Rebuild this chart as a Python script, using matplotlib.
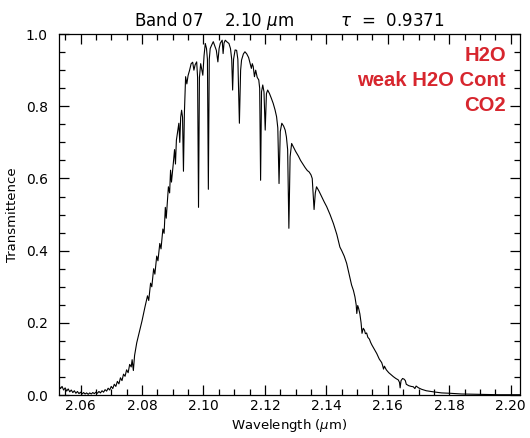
import matplotlib
matplotlib.use("Agg")
import matplotlib.pyplot as plt
from matplotlib.ticker import MultipleLocator, FormatStrFormatter

# Band 07 transmittance
wavelength = [
    2.0530, 2.0535, 2.0540, 2.0545, 2.0550, 2.0555, 2.0560, 2.0565, 2.0570, 2.0575,
    2.0580, 2.0585, 2.0590, 2.0595, 2.0600, 2.0605, 2.0610, 2.0615, 2.0620, 2.0625,
    2.0630, 2.0635, 2.0640, 2.0645, 2.0650, 2.0655, 2.0660, 2.0665, 2.0670, 2.0675,
    2.0680, 2.0685, 2.0690, 2.0695, 2.0700, 2.0705, 2.0710, 2.0715, 2.0720, 2.0725,
    2.0730, 2.0735, 2.0740, 2.0745, 2.0750, 2.0755, 2.0760, 2.0765, 2.0768, 2.0772,
    2.0776, 2.0783, 2.0790, 2.0800, 2.0810, 2.0818, 2.0822, 2.0828, 2.0832, 2.0838,
    2.0842, 2.0848, 2.0852, 2.0858, 2.0862, 2.0868, 2.0872, 2.0876, 2.0879, 2.0886,
    2.0890, 2.0893, 2.0896, 2.0902, 2.0906, 2.0909, 2.0912, 2.0916, 2.0920, 2.0923,
    2.0926, 2.0929, 2.0932, 2.0935, 2.0938, 2.0942, 2.0946, 2.0950, 2.0955, 2.0960,
    2.0965, 2.0969, 2.0973, 2.0978, 2.0981, 2.0984, 2.0987, 2.0991, 2.0995, 2.0998,
    2.1002, 2.1006, 2.1010, 2.1013, 2.1016, 2.1019, 2.1022, 2.1027, 2.1032, 2.1038,
    2.1042, 2.1047, 2.1051, 2.1055, 2.1061, 2.1064, 2.1067, 2.1071, 2.1077, 2.1083,
    2.1088, 2.1092, 2.1095, 2.1098, 2.1103, 2.1108, 2.1112, 2.1117, 2.1121, 2.1124,
    2.1130, 2.1135, 2.1141, 2.1147, 2.1152, 2.1156, 2.1159, 2.1162, 2.1166, 2.1170,
    2.1175, 2.1180, 2.1183, 2.1186, 2.1189, 2.1193, 2.1197, 2.1201, 2.1205, 2.1209,
    2.1215, 2.1221, 2.1227, 2.1233, 2.1238, 2.1242, 2.1246, 2.1250, 2.1255, 2.1261,
    2.1266, 2.1270, 2.1274, 2.1278, 2.1282, 2.1287, 2.1294, 2.1300, 2.1309, 2.1316,
    2.1325, 2.1331, 2.1338, 2.1344, 2.1350, 2.1354, 2.1360, 2.1364, 2.1368, 2.1376,
    2.1385, 2.1393, 2.1401, 2.1412, 2.1423, 2.1434, 2.1444, 2.1450, 2.1458, 2.1466,
    2.1474, 2.1482, 2.1488, 2.1493, 2.1497, 2.1499, 2.1502, 2.1505, 2.1509, 2.1513,
    2.1516, 2.1520, 2.1524, 2.1527, 2.1531, 2.1535, 2.1540, 2.1544, 2.1548, 2.1556,
    2.1564, 2.1572, 2.1580, 2.1583, 2.1586, 2.1589, 2.1595, 2.1603, 2.1610, 2.1618,
    2.1626, 2.1634, 2.1638, 2.1640, 2.1643, 2.1648, 2.1653, 2.1657, 2.1660, 2.1668,
    2.1676, 2.1683, 2.1688, 2.1692, 2.1700, 2.1710, 2.1725, 2.1748, 2.1775, 2.1802,
    2.1840, 2.1900, 2.1960, 2.2030,
]
transmittance = [
    0.026, 0.018, 0.024, 0.014, 0.020, 0.011, 0.017, 0.009, 0.014, 0.007,
    0.012, 0.005, 0.010, 0.004, 0.008, 0.003, 0.007, 0.003, 0.006, 0.002,
    0.006, 0.003, 0.007, 0.004, 0.008, 0.005, 0.010, 0.006, 0.012, 0.008,
    0.015, 0.011, 0.019, 0.014, 0.024, 0.018, 0.030, 0.024, 0.038, 0.031,
    0.048, 0.040, 0.058, 0.052, 0.070, 0.062, 0.085, 0.078, 0.098, 0.068,
    0.110, 0.145, 0.170, 0.205, 0.245, 0.275, 0.262, 0.310, 0.300, 0.350,
    0.335, 0.385, 0.372, 0.420, 0.405, 0.460, 0.448, 0.520, 0.490, 0.577,
    0.560, 0.623, 0.590, 0.642, 0.680, 0.640, 0.706, 0.730, 0.753, 0.700,
    0.770, 0.789, 0.770, 0.620, 0.780, 0.882, 0.862, 0.885, 0.900, 0.918,
    0.922, 0.900, 0.915, 0.923, 0.880, 0.520, 0.880, 0.918, 0.900, 0.886,
    0.940, 0.974, 0.960, 0.930, 0.570, 0.930, 0.960, 0.970, 0.979, 0.965,
    0.955, 0.923, 0.960, 0.975, 0.983, 0.946, 0.975, 0.983, 0.978, 0.974,
    0.960, 0.930, 0.845, 0.930, 0.956, 0.955, 0.930, 0.753, 0.900, 0.928,
    0.945, 0.951, 0.945, 0.935, 0.918, 0.905, 0.918, 0.910, 0.882, 0.900,
    0.880, 0.873, 0.850, 0.595, 0.840, 0.859, 0.840, 0.734, 0.835, 0.845,
    0.835, 0.822, 0.808, 0.790, 0.771, 0.740, 0.586, 0.730, 0.753, 0.745,
    0.734, 0.715, 0.680, 0.462, 0.660, 0.697, 0.685, 0.675, 0.662, 0.650,
    0.638, 0.630, 0.622, 0.618, 0.610, 0.600, 0.514, 0.560, 0.577, 0.565,
    0.549, 0.535, 0.522, 0.500, 0.475, 0.445, 0.410, 0.400, 0.385, 0.365,
    0.335, 0.305, 0.290, 0.272, 0.250, 0.226, 0.248, 0.240, 0.225, 0.200,
    0.171, 0.185, 0.180, 0.170, 0.172, 0.160, 0.155, 0.146, 0.139, 0.127,
    0.115, 0.100, 0.090, 0.082, 0.072, 0.080, 0.070, 0.062, 0.057, 0.051,
    0.046, 0.042, 0.035, 0.020, 0.040, 0.046, 0.044, 0.040, 0.030, 0.026,
    0.024, 0.023, 0.018, 0.025, 0.020, 0.016, 0.012, 0.009, 0.006, 0.005,
    0.003, 0.002, 0.001, 0.001,
]

band_title = r"Band 07    2.10 $\mu$m         $\tau$  =  0.9371"
species = ["H2O", "weak H2O Cont", "CO2"]

fig = plt.figure(figsize=(5.30, 4.38), dpi=100)
ax = fig.add_axes([0.1113, 0.098, 0.8698, 0.8242])

ax.plot(wavelength, transmittance, color="black", lw=0.8)

ax.set_xlim(2.053, 2.203)
ax.set_ylim(0.0, 1.0)
ax.xaxis.set_major_locator(MultipleLocator(0.02))
ax.xaxis.set_minor_locator(MultipleLocator(0.005))
ax.yaxis.set_major_locator(MultipleLocator(0.2))
ax.yaxis.set_minor_locator(MultipleLocator(0.05))
ax.xaxis.set_major_formatter(FormatStrFormatter("%.2f"))
ax.yaxis.set_major_formatter(FormatStrFormatter("%.1f"))
ax.tick_params(which="both", direction="in", top=True, right=True,
               labelsize=10, width=0.9)
ax.tick_params(which="major", length=7)
ax.tick_params(which="minor", length=4)
ax.tick_params(axis="x", which="major", pad=3)
ax.tick_params(axis="y", which="major", pad=8)
for s in ax.spines.values():
    s.set_linewidth(0.9)

ax.set_xlabel(r"Wavelength ($\mu$m)", fontsize=9.5, labelpad=3)
ax.set_ylabel("Transmittence", fontsize=9.5, labelpad=5)
ax.set_title(band_title, fontsize=12, pad=6)

# absorber labels, top right
for i, name in enumerate(species):
    ax.text(0.970, 0.942 - i * 0.0695, name, transform=ax.transAxes,
            ha="right", va="center", color="#d7262e", fontsize=14.6,
            fontweight="bold", family="Liberation Sans")

fig.savefig("out.png", dpi=100)
